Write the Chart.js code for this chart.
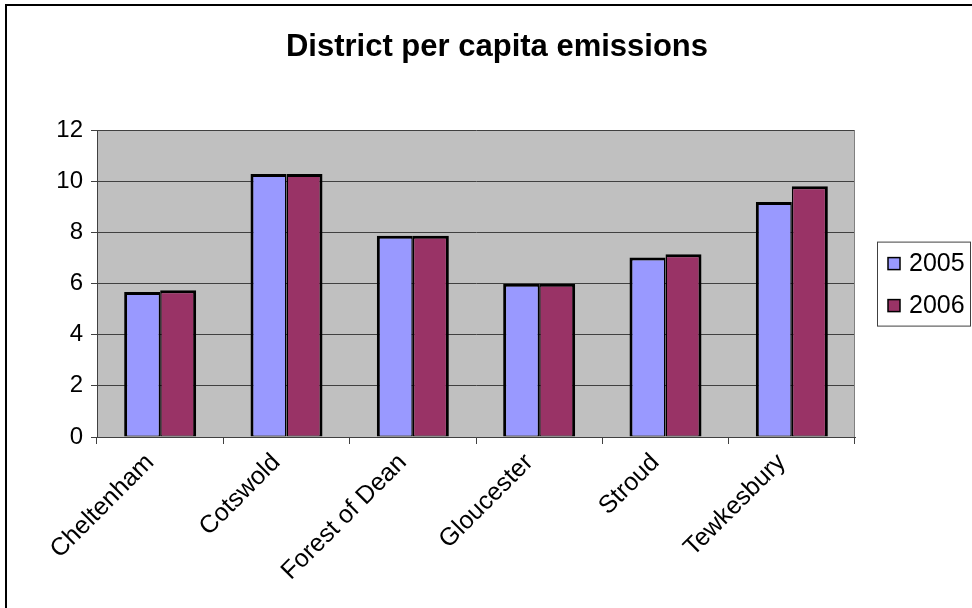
<!DOCTYPE html>
<html>
<head>
<meta charset="utf-8">
<script src="https://cdn.jsdelivr.net/npm/chart.js@4.4.1/dist/chart.umd.min.js"></script>
<style>
  html, body { margin: 0; padding: 0; background: #fff; }
</style>
</head>
<body>
<canvas id="emissionsChart" width="972" height="608"></canvas>
<script>
const districts = ["Cheltenham", "Cotswold", "Forest of Dean", "Gloucester", "Stroud", "Tewkesbury"];
const years = ["2005", "2006"];
const emissions2005 = [5.67, 10.29, 7.87, 5.99, 7.02, 9.19];
const emissions2006 = [5.74, 10.29, 7.87, 5.99, 7.15, 9.81];
const yTicks = [0, 2, 4, 6, 8, 10, 12];
const seriesColors = ["#9999FF", "#993366"];

const fontFamily = "'Liberation Sans', Arial, sans-serif";
Chart.defaults.font.family = fontFamily;
Chart.defaults.color = "#000";

// white page, black frame (top + left only), grey plot area
const chartFrame = {
    id: "chartFrame",
    beforeDraw(chart) {
        const { ctx, chartArea: a } = chart;
        ctx.save();
        ctx.fillStyle = "#fff";
        ctx.fillRect(0, 0, chart.width, chart.height);
        ctx.strokeStyle = "#000";
        ctx.lineWidth = 2;
        ctx.strokeRect(6, 5, chart.width + 20, chart.height + 20);
        ctx.fillStyle = "#C0C0C0";
        ctx.fillRect(a.left, a.top, a.width, a.height);
        ctx.restore();
    },
    beforeDatasetsDraw(chart) {
        const { ctx, chartArea: a } = chart;
        ctx.save();
        ctx.strokeStyle = "#808080";
        ctx.lineWidth = 1;
        ctx.beginPath();
        ctx.moveTo(a.right - 0.5, a.top);
        ctx.lineTo(a.right - 0.5, a.bottom);
        ctx.stroke();
        ctx.restore();
    }
};

// boxed legend to the right of the plot
const boxLegend = {
    id: "boxLegend",
    afterDraw(chart) {
        const { ctx, chartArea: a } = chart;
        const left = a.right + 22;
        const top = (a.top + a.bottom) / 2 - 42;
        ctx.save();
        ctx.strokeStyle = "#404040";
        ctx.lineWidth = 1;
        ctx.strokeRect(left + 0.5, top + 0.5, 93, 84);
        ctx.font = "25px " + fontFamily;
        ctx.textBaseline = "middle";
        chart.data.datasets.forEach((ds, i) => {
            const cy = top + 22 + i * 42;
            ctx.fillStyle = ds.backgroundColor;
            ctx.fillRect(left + 11, cy - 6, 12, 12);
            ctx.strokeStyle = "#000";
            ctx.lineWidth = 1.5;
            ctx.strokeRect(left + 11, cy - 6, 12, 12);
            ctx.fillStyle = "#000";
            ctx.fillText(ds.label, left + 32, cy + 1);
        });
        ctx.restore();
    }
};

const ctx = document.getElementById("emissionsChart").getContext("2d");

new Chart(ctx, {
    type: "bar",
    data: {
        labels: districts,
        datasets: [
            {
                label: years[0],
                data: emissions2005,
                backgroundColor: seriesColors[0],
                borderColor: "#000",
                borderWidth: { top: 3, left: 3, right: 1.5, bottom: 1 },
                borderSkipped: false
            },
            {
                label: years[1],
                data: emissions2006,
                backgroundColor: seriesColors[1],
                borderColor: "#000",
                borderWidth: { top: 3, left: 1.5, right: 3, bottom: 1 },
                borderSkipped: false
            }
        ]
    },
    options: {
        responsive: false,
        animation: false,
        devicePixelRatio: 1,
        categoryPercentage: 0.57,
        barPercentage: 1.0,
        layout: { padding: { left: 22, right: 0, top: 0, bottom: 0 } },
        scales: {
            x: {
                grid: {
                    offset: true,
                    drawOnChartArea: false,
                    drawTicks: true,
                    tickLength: 7,
                    color: "#404040"
                },
                border: { color: "#404040" },
                ticks: {
                    minRotation: 45,
                    maxRotation: 45,
                    autoSkip: false,
                    padding: 4,
                    labelOffset: -10,
                    font: { size: 25 }
                },
                afterFit: scale => { scale.height = 171; }
            },
            y: {
                min: yTicks[0],
                max: yTicks[yTicks.length - 1],
                ticks: {
                    stepSize: yTicks[1] - yTicks[0],
                    padding: 8,
                    font: { size: 24 }
                },
                grid: { color: "#404040", tickLength: 6 },
                border: { color: "#404040" },
                afterFit: scale => { scale.width = 75; }
            },
            spacer: {
                position: "right",
                grid: { display: false },
                ticks: { display: false },
                border: { display: false },
                afterFit: scale => { scale.width = 117; }
            }
        },
        plugins: {
            legend: { display: false },
            tooltip: { enabled: false },
            title: {
                display: true,
                text: "District per capita emissions",
                color: "#000",
                font: { size: 31, weight: "bold" },
                padding: { top: 29, bottom: 64 }
            }
        }
    },
    plugins: [chartFrame, boxLegend]
});
</script>
</body>
</html>
